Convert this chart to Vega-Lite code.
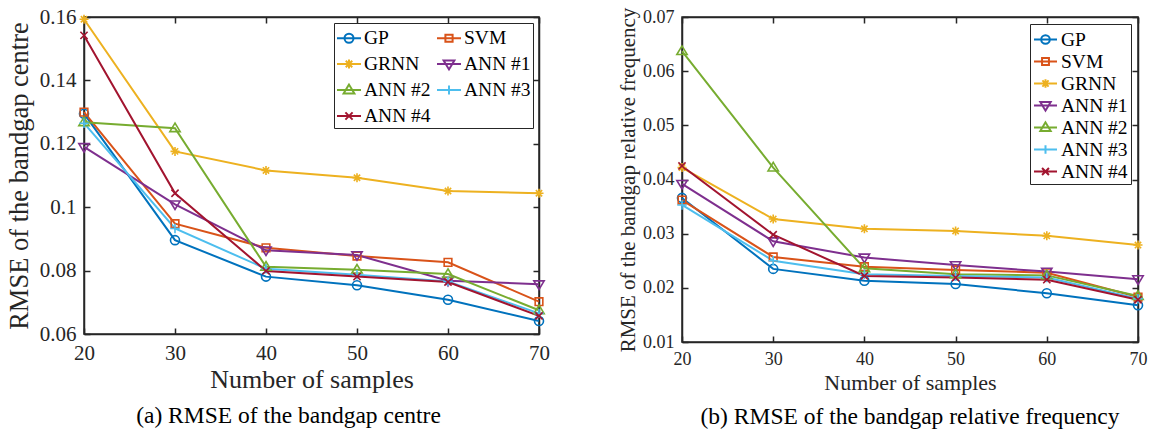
{
  "$schema": "https://vega.github.io/schema/vega-lite/v6.json",
  "padding": {"left": 5, "top": 5, "right": 5, "bottom": 5},
  "spacing": 143,
  "bounds": "flush",
  "datasets": {
    "left": [
      {"n": 20, "model": "GP", "rmse": 0.1295}, {"n": 30, "model": "GP", "rmse": 0.0896}, {"n": 40, "model": "GP", "rmse": 0.0781}, {"n": 50, "model": "GP", "rmse": 0.0754}, {"n": 60, "model": "GP", "rmse": 0.0708}, {"n": 70, "model": "GP", "rmse": 0.0641},
      {"n": 20, "model": "SVM", "rmse": 0.1300}, {"n": 30, "model": "SVM", "rmse": 0.0948}, {"n": 40, "model": "SVM", "rmse": 0.0872}, {"n": 50, "model": "SVM", "rmse": 0.0846}, {"n": 60, "model": "SVM", "rmse": 0.0826}, {"n": 70, "model": "SVM", "rmse": 0.0702},
      {"n": 20, "model": "GRNN", "rmse": 0.1593}, {"n": 30, "model": "GRNN", "rmse": 0.1176}, {"n": 40, "model": "GRNN", "rmse": 0.1116}, {"n": 50, "model": "GRNN", "rmse": 0.1093}, {"n": 60, "model": "GRNN", "rmse": 0.1051}, {"n": 70, "model": "GRNN", "rmse": 0.1044},
      {"n": 20, "model": "ANN #1", "rmse": 0.1190}, {"n": 30, "model": "ANN #1", "rmse": 0.1009}, {"n": 40, "model": "ANN #1", "rmse": 0.0864}, {"n": 50, "model": "ANN #1", "rmse": 0.0849}, {"n": 60, "model": "ANN #1", "rmse": 0.0768}, {"n": 70, "model": "ANN #1", "rmse": 0.0757},
      {"n": 20, "model": "ANN #2", "rmse": 0.1268}, {"n": 30, "model": "ANN #2", "rmse": 0.1249}, {"n": 40, "model": "ANN #2", "rmse": 0.0812}, {"n": 50, "model": "ANN #2", "rmse": 0.0803}, {"n": 60, "model": "ANN #2", "rmse": 0.0789}, {"n": 70, "model": "ANN #2", "rmse": 0.0675},
      {"n": 20, "model": "ANN #3", "rmse": 0.1265}, {"n": 30, "model": "ANN #3", "rmse": 0.0933}, {"n": 40, "model": "ANN #3", "rmse": 0.0806}, {"n": 50, "model": "ANN #3", "rmse": 0.0787}, {"n": 60, "model": "ANN #3", "rmse": 0.0766}, {"n": 70, "model": "ANN #3", "rmse": 0.0665},
      {"n": 20, "model": "ANN #4", "rmse": 0.1542}, {"n": 30, "model": "ANN #4", "rmse": 0.1044}, {"n": 40, "model": "ANN #4", "rmse": 0.0799}, {"n": 50, "model": "ANN #4", "rmse": 0.0781}, {"n": 60, "model": "ANN #4", "rmse": 0.0764}, {"n": 70, "model": "ANN #4", "rmse": 0.0657}
    ],
    "right": [
      {"n": 20, "model": "GP", "rmse": 0.0366}, {"n": 30, "model": "GP", "rmse": 0.0235}, {"n": 40, "model": "GP", "rmse": 0.0213}, {"n": 50, "model": "GP", "rmse": 0.0207}, {"n": 60, "model": "GP", "rmse": 0.0190}, {"n": 70, "model": "GP", "rmse": 0.0168},
      {"n": 20, "model": "SVM", "rmse": 0.0362}, {"n": 30, "model": "SVM", "rmse": 0.0257}, {"n": 40, "model": "SVM", "rmse": 0.0239}, {"n": 50, "model": "SVM", "rmse": 0.0233}, {"n": 60, "model": "SVM", "rmse": 0.0228}, {"n": 70, "model": "SVM", "rmse": 0.0183},
      {"n": 20, "model": "GRNN", "rmse": 0.0422}, {"n": 30, "model": "GRNN", "rmse": 0.0327}, {"n": 40, "model": "GRNN", "rmse": 0.0309}, {"n": 50, "model": "GRNN", "rmse": 0.0305}, {"n": 60, "model": "GRNN", "rmse": 0.0296}, {"n": 70, "model": "GRNN", "rmse": 0.0279},
      {"n": 20, "model": "ANN #1", "rmse": 0.0392}, {"n": 30, "model": "ANN #1", "rmse": 0.0286}, {"n": 40, "model": "ANN #1", "rmse": 0.0256}, {"n": 50, "model": "ANN #1", "rmse": 0.0242}, {"n": 60, "model": "ANN #1", "rmse": 0.0230}, {"n": 70, "model": "ANN #1", "rmse": 0.0216},
      {"n": 20, "model": "ANN #2", "rmse": 0.0637}, {"n": 30, "model": "ANN #2", "rmse": 0.0422}, {"n": 40, "model": "ANN #2", "rmse": 0.0236}, {"n": 50, "model": "ANN #2", "rmse": 0.0225}, {"n": 60, "model": "ANN #2", "rmse": 0.0223}, {"n": 70, "model": "ANN #2", "rmse": 0.0185},
      {"n": 20, "model": "ANN #3", "rmse": 0.0353}, {"n": 30, "model": "ANN #3", "rmse": 0.0250}, {"n": 40, "model": "ANN #3", "rmse": 0.0225}, {"n": 50, "model": "ANN #3", "rmse": 0.0222}, {"n": 60, "model": "ANN #3", "rmse": 0.0219}, {"n": 70, "model": "ANN #3", "rmse": 0.0180},
      {"n": 20, "model": "ANN #4", "rmse": 0.0425}, {"n": 30, "model": "ANN #4", "rmse": 0.0298}, {"n": 40, "model": "ANN #4", "rmse": 0.0222}, {"n": 50, "model": "ANN #4", "rmse": 0.0219}, {"n": 60, "model": "ANN #4", "rmse": 0.0215}, {"n": 70, "model": "ANN #4", "rmse": 0.0178}
    ]
  },
  "resolve": {
    "scale": {"x": "independent", "y": "independent", "color": "independent", "shape": "independent"},
    "legend": {"color": "independent", "shape": "independent"}
  },
  "hconcat": [
    {
      "width": 455,
      "height": 317,
      "data": {"name": "left"},
      "title": {"text": "(a) RMSE of the bandgap centre", "orient": "bottom", "fontSize": 23.5, "dx": -23, "offset": 12},
      "layer": [
        {
          "mark": {"type": "line", "strokeWidth": 2},
          "encoding": {
            "x": {"field": "n", "type": "quantitative", "scale": {"domain": [20, 70], "nice": false, "zero": false},
                  "axis": {"orient": "bottom", "values": [20, 30, 40, 50, 60, 70], "title": "Number of samples", "titleFontSize": 26, "labelFontSize": 21, "titlePadding": 3}},
            "y": {"field": "rmse", "type": "quantitative", "scale": {"domain": [0.06, 0.16], "nice": false, "zero": false},
                  "axis": {"orient": "left", "values": [0.06, 0.08, 0.1, 0.12, 0.14, 0.16], "labelExpr": "format(datum.value, '.2~f')", "title": "RMSE of the bandgap centre", "titleFontSize": 26.5, "labelFontSize": 21, "titlePadding": 6}},
            "color": {"field": "model", "type": "nominal", "sort": null,
                      "scale": {"domain": ["GP", "SVM", "GRNN", "ANN #1", "ANN #2", "ANN #3", "ANN #4"], "range": ["#0072BD", "#D95319", "#EDB120", "#7E2F8E", "#77AC30", "#4DBEEE", "#A2142F"]},
                      "legend": null}
          }
        },
        {
          "mark": {"type": "point", "filled": false, "size": 81, "strokeWidth": 1.6, "opacity": 1},
          "encoding": {
            "x": {"field": "n", "type": "quantitative", "scale": {"domain": [20, 70], "nice": false, "zero": false},
                  "axis": {"orient": "top", "values": [20, 30, 40, 50, 60, 70], "labels": false, "title": null}},
            "y": {"field": "rmse", "type": "quantitative", "scale": {"domain": [0.06, 0.16], "nice": false, "zero": false},
                  "axis": {"orient": "right", "values": [0.06, 0.08, 0.1, 0.12, 0.14, 0.16], "labels": false, "title": null}},
            "color": {"field": "model", "type": "nominal", "sort": null,
                      "scale": {"domain": ["GP", "SVM", "GRNN", "ANN #1", "ANN #2", "ANN #3", "ANN #4"], "range": ["#0072BD", "#D95319", "#EDB120", "#7E2F8E", "#77AC30", "#4DBEEE", "#A2142F"]},
                      "legend": null},
            "shape": {"field": "model", "type": "nominal", "sort": null,
                      "scale": {"domain": ["GP", "SVM", "GRNN", "ANN #1", "ANN #2", "ANN #3", "ANN #4"],
                                "range": ["circle", "M-0.85,-0.85L0.85,-0.85L0.85,0.85L-0.85,0.85Z", "M-1,0L1,0M0,-1L0,1M-0.7,-0.7L0.7,0.7M-0.7,0.7L0.7,-0.7", "M-1.15,-0.75L1.15,-0.75L0,1.15Z", "M0,-1.15L-1.15,0.75L1.15,0.75Z", "M-1.05,0L1.05,0M0,-1.05L0,1.05", "M-0.8,-0.8L0.8,0.8M-0.8,0.8L0.8,-0.8"]},
                      "legend": null}
          }
        },
        {
          "transform": [{"filter": "false"}],
          "mark": {"type": "point", "filled": false, "strokeWidth": 2, "opacity": 1},
          "encoding": {
            "color": {"field": "model", "type": "nominal", "sort": null,
                      "scale": {"domain": ["GP", "SVM", "GRNN", "ANN #1", "ANN #2", "ANN #3", "ANN #4"], "range": ["#0072BD", "#D95319", "#EDB120", "#7E2F8E", "#77AC30", "#4DBEEE", "#A2142F"]},
                      "legend": {"orient": "top-right", "offset": 6, "direction": "horizontal", "columns": 2, "title": null, "symbolSize": 576, "symbolStrokeWidth": 2,
                                 "labelFontSize": 19.5, "labelOffset": 2, "columnPadding": 2, "rowPadding": 3, "padding": 2,
                                 "strokeColor": "#262626", "fillColor": "white", "labelColor": "black"}},
            "shape": {"field": "model", "type": "nominal", "sort": null,
                      "scale": {"domain": ["GP", "SVM", "GRNN", "ANN #1", "ANN #2", "ANN #3", "ANN #4"],
                                "range": ["M-1,0L1,0M-0.375,0A0.375,0.375 0 1,0 0.375,0A0.375,0.375 0 1,0 -0.375,0", "M-1,0L1,0M-0.3,-0.3L0.3,-0.3L0.3,0.3L-0.3,0.3Z", "M-1,0L1,0M0,-0.375L0,0.375M-0.27,-0.27L0.27,0.27M-0.27,0.27L0.27,-0.27", "M-1,0L1,0M-0.45,-0.3L0.45,-0.3L0,0.45Z", "M-1,0L1,0M0,-0.45L-0.45,0.3L0.45,0.3Z", "M-1,0L1,0M0,-0.375L0,0.375", "M-1,0L1,0M-0.3,-0.3L0.3,0.3M-0.3,0.3L0.3,-0.3"]},
                      "legend": {"orient": "top-right", "offset": 6, "direction": "horizontal", "columns": 2, "title": null, "symbolSize": 576, "symbolStrokeWidth": 2,
                                 "labelFontSize": 19.5, "labelOffset": 2, "columnPadding": 2, "rowPadding": 3, "padding": 2,
                                 "strokeColor": "#262626", "fillColor": "white", "labelColor": "black"}}
          }
        }
      ],
      "resolve": {
        "axis": {"x": "independent", "y": "independent"},
        "scale": {"color": "independent", "shape": "independent"},
        "legend": {"color": "independent", "shape": "independent"}
      }
    },
    {
      "width": 456,
      "height": 325,
      "data": {"name": "right"},
      "title": {"text": "(b) RMSE of the bandgap relative frequency", "orient": "bottom", "fontSize": 23.5, "offset": 12},
      "layer": [
        {
          "mark": {"type": "line", "strokeWidth": 2},
          "encoding": {
            "x": {"field": "n", "type": "quantitative", "scale": {"domain": [20, 70], "nice": false, "zero": false},
                  "axis": {"orient": "bottom", "values": [20, 30, 40, 50, 60, 70], "title": "Number of samples", "titleFontSize": 22, "labelFontSize": 18, "titlePadding": 4}},
            "y": {"field": "rmse", "type": "quantitative", "scale": {"domain": [0.01, 0.07], "nice": false, "zero": false},
                  "axis": {"orient": "left", "values": [0.01, 0.02, 0.03, 0.04, 0.05, 0.06, 0.07], "labelExpr": "format(datum.value, '.2~f')", "title": "RMSE of the bandgap relative frequency", "titleFontSize": 21, "labelFontSize": 18, "titlePadding": 4}},
            "color": {"field": "model", "type": "nominal", "sort": null,
                      "scale": {"domain": ["GP", "SVM", "GRNN", "ANN #1", "ANN #2", "ANN #3", "ANN #4"], "range": ["#0072BD", "#D95319", "#EDB120", "#7E2F8E", "#77AC30", "#4DBEEE", "#A2142F"]},
                      "legend": null}
          }
        },
        {
          "mark": {"type": "point", "filled": false, "size": 81, "strokeWidth": 1.6, "opacity": 1},
          "encoding": {
            "x": {"field": "n", "type": "quantitative", "scale": {"domain": [20, 70], "nice": false, "zero": false},
                  "axis": {"orient": "top", "values": [20, 30, 40, 50, 60, 70], "labels": false, "title": null}},
            "y": {"field": "rmse", "type": "quantitative", "scale": {"domain": [0.01, 0.07], "nice": false, "zero": false},
                  "axis": {"orient": "right", "values": [0.01, 0.02, 0.03, 0.04, 0.05, 0.06, 0.07], "labels": false, "title": null}},
            "color": {"field": "model", "type": "nominal", "sort": null,
                      "scale": {"domain": ["GP", "SVM", "GRNN", "ANN #1", "ANN #2", "ANN #3", "ANN #4"], "range": ["#0072BD", "#D95319", "#EDB120", "#7E2F8E", "#77AC30", "#4DBEEE", "#A2142F"]},
                      "legend": null},
            "shape": {"field": "model", "type": "nominal", "sort": null,
                      "scale": {"domain": ["GP", "SVM", "GRNN", "ANN #1", "ANN #2", "ANN #3", "ANN #4"],
                                "range": ["circle", "M-0.85,-0.85L0.85,-0.85L0.85,0.85L-0.85,0.85Z", "M-1,0L1,0M0,-1L0,1M-0.7,-0.7L0.7,0.7M-0.7,0.7L0.7,-0.7", "M-1.15,-0.75L1.15,-0.75L0,1.15Z", "M0,-1.15L-1.15,0.75L1.15,0.75Z", "M-1.05,0L1.05,0M0,-1.05L0,1.05", "M-0.8,-0.8L0.8,0.8M-0.8,0.8L0.8,-0.8"]},
                      "legend": null}
          }
        },
        {
          "transform": [{"filter": "false"}],
          "mark": {"type": "point", "filled": false, "strokeWidth": 2, "opacity": 1},
          "encoding": {
            "color": {"field": "model", "type": "nominal", "sort": null,
                      "scale": {"domain": ["GP", "SVM", "GRNN", "ANN #1", "ANN #2", "ANN #3", "ANN #4"], "range": ["#0072BD", "#D95319", "#EDB120", "#7E2F8E", "#77AC30", "#4DBEEE", "#A2142F"]},
                      "legend": {"orient": "top-right", "offset": 7, "direction": "vertical", "columns": 1, "title": null, "symbolSize": 529, "symbolStrokeWidth": 2,
                                 "labelFontSize": 19.5, "labelOffset": 3, "rowPadding": 0, "padding": 3,
                                 "strokeColor": "#262626", "fillColor": "white", "labelColor": "black"}},
            "shape": {"field": "model", "type": "nominal", "sort": null,
                      "scale": {"domain": ["GP", "SVM", "GRNN", "ANN #1", "ANN #2", "ANN #3", "ANN #4"],
                                "range": ["M-1,0L1,0M-0.375,0A0.375,0.375 0 1,0 0.375,0A0.375,0.375 0 1,0 -0.375,0", "M-1,0L1,0M-0.3,-0.3L0.3,-0.3L0.3,0.3L-0.3,0.3Z", "M-1,0L1,0M0,-0.375L0,0.375M-0.27,-0.27L0.27,0.27M-0.27,0.27L0.27,-0.27", "M-1,0L1,0M-0.45,-0.3L0.45,-0.3L0,0.45Z", "M-1,0L1,0M0,-0.45L-0.45,0.3L0.45,0.3Z", "M-1,0L1,0M0,-0.375L0,0.375", "M-1,0L1,0M-0.3,-0.3L0.3,0.3M-0.3,0.3L0.3,-0.3"]},
                      "legend": {"orient": "top-right", "offset": 7, "direction": "vertical", "columns": 1, "title": null, "symbolSize": 529, "symbolStrokeWidth": 2,
                                 "labelFontSize": 19.5, "labelOffset": 3, "rowPadding": 0, "padding": 3,
                                 "strokeColor": "#262626", "fillColor": "white", "labelColor": "black"}}
          }
        }
      ],
      "resolve": {
        "axis": {"x": "independent", "y": "independent"},
        "scale": {"color": "independent", "shape": "independent"},
        "legend": {"color": "independent", "shape": "independent"}
      }
    }
  ],
  "config": {
    "font": "Liberation Serif",
    "view": {"stroke": "#262626", "strokeWidth": 1.5},
    "axis": {
      "grid": false, "domainColor": "#262626", "domainWidth": 1.5, "tickColor": "#262626", "tickWidth": 1.5, "tickSize": -6,
      "labelPadding": 14, "labelFlush": false, "labelOverlap": false, "labelColor": "#262626", "titleColor": "#262626",
      "titleFontWeight": "normal", "labelFont": "Liberation Serif", "titleFont": "Liberation Serif"
    },
    "legend": {"labelFont": "Liberation Serif"},
    "title": {"font": "Liberation Serif", "fontWeight": "normal", "color": "black", "anchor": "middle", "frame": "group"}
  }
}
